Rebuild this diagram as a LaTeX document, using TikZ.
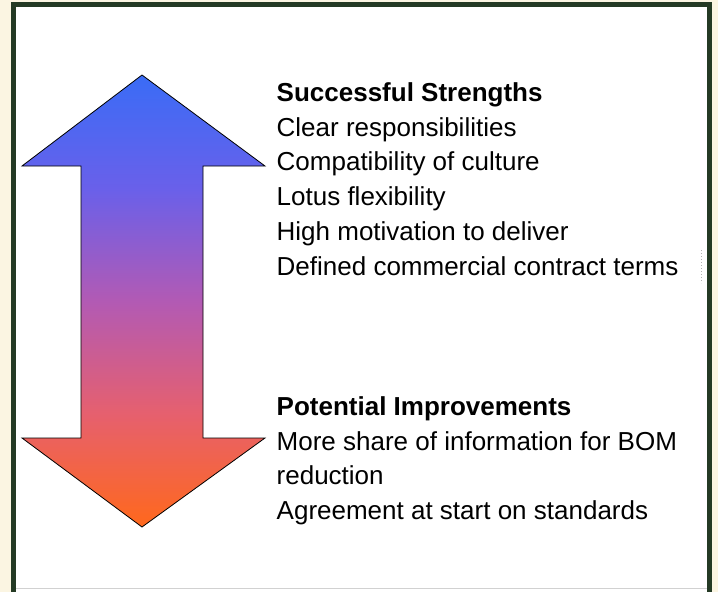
\documentclass[tikz,border=0pt]{standalone}
\usepackage{fontspec}
\setmainfont{Liberation Sans}
\usepackage{tikz}
\definecolor{framegreen}{RGB}{36,58,36}
\definecolor{cream}{RGB}{251,245,226}
\definecolor{arrowtop}{RGB}{58,108,246}
\definecolor{arrowhigh}{RGB}{105,96,234}
\definecolor{arrowmid}{RGB}{178,90,180}
\definecolor{arrowlow}{RGB}{230,96,110}
\definecolor{arrowbot}{RGB}{255,104,28}
\pgfdeclareverticalshading{arrowfade}{100bp}{color(0bp)=(arrowbot); color(25bp)=(arrowbot);
	color(37.5bp)=(arrowlow); color(50bp)=(arrowmid); color(62.5bp)=(arrowhigh);
	color(75bp)=(arrowtop); color(100bp)=(arrowtop)}

\begin{document}
\begin{tikzpicture}[x=1pt, y=-1pt,
	listtext/.style={anchor=north west, inner sep=0pt, align=left, font=\fontsize{26}{34.7}\selectfont}]
	\useasboundingbox (0,0) rectangle (718,592);
	\clip (0,0) rectangle (718,592);
	\fill[cream] (0,0) rectangle (718,592);
	\filldraw[fill=white, draw=framegreen, line width=5pt] (13.5,4.5) rectangle (709,620);
	\draw[black!18, line width=0.8pt] (16,588) -- (706.5,588);
	\draw[black!30, dotted, line width=1pt] (701,250) -- (701,283);
	% double arrow, blue at the top, orange at the bottom
	\shadedraw[shading=arrowfade, draw=black, line width=0.8pt]
		(142,75) -- (265,166) -- (203,166) -- (203,438) -- (265,438) -- (142,527)
		-- (22,438) -- (81,438) -- (81,166) -- (22,166) -- cycle;
	\node[listtext] (strengths) at (276.5,82.5) {\textbf{Successful Strengths}\\
		Clear responsibilities\\
		Compatibility of culture\\
		Lotus flexibility\\
		High motivation to deliver\\
		Defined commercial contract terms};
	\node[listtext] (improvements) at (276.5,396.4) {\textbf{Potential Improvements}\\
		More share of information for BOM\\
		reduction\\
		Agreement at start on standards};
\end{tikzpicture}
\end{document}
